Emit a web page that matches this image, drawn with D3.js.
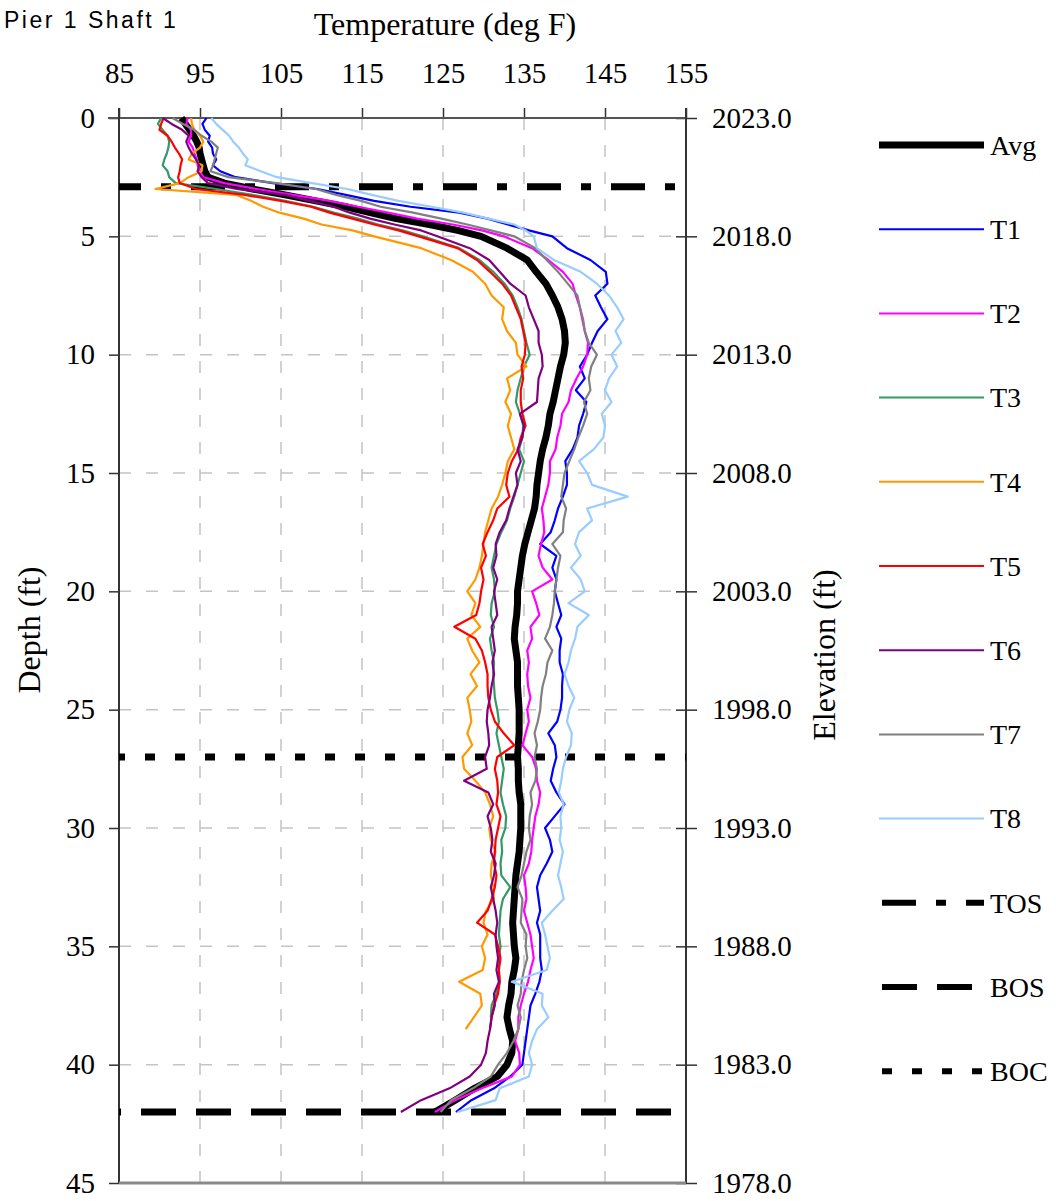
<!DOCTYPE html>
<html>
<head>
<meta charset="utf-8">
<script src="https://cdn.jsdelivr.net/npm/d3@7"></script>
<style>
  body { margin: 0; background: #fff; }
  svg text { font-family: "Liberation Serif", "Times New Roman", serif; fill: #000; }
  svg text.sans { font-family: "Liberation Sans", Arial, sans-serif; }
</style>
</head>
<body>
<svg id="chart" width="1056" height="1201"></svg>
<script>
// ---- Data: temperature profiles of Pier 1 Shaft 1 (deg F vs depth in ft) ----
const depthFt = [
  0, 0.25, 0.5, 0.75, 1, 1.25, 1.5, 1.75, 2, 2.25, 2.5, 2.75, 3, 3.25, 3.5, 3.75, 4, 4.25, 4.5, 4.75, 5,
  5.5, 6, 6.5, 7, 7.5, 8, 8.5, 9, 9.5, 10, 10.5, 11, 11.5, 12, 12.5, 13, 13.5, 14, 14.5, 15, 15.5, 16,
  16.5, 17, 17.5, 18, 18.5, 19, 19.5, 20, 20.5, 21, 21.5, 22, 22.5, 23, 23.5, 24, 24.5, 25, 25.5, 26, 26.5, 27, 27.5, 28,
  28.5, 29, 29.5, 30, 30.5, 31, 31.5, 32, 32.5, 33, 33.5, 34, 34.5, 35, 35.5, 36, 36.5, 37, 37.5, 38, 38.5, 39, 39.5, 40, 40.5, 41, 41.5, 42
];

const avgTemp = [
  92.7, 93.2, 93.7, 94.2, 94.6, 94.9, 95.0, 95.2, 95.4, 95.6, 96.0, 98.0, 101.5, 105.5, 109.3, 113.0, 116.0, 119.2, 123.3, 126.8, 129.7,
  132.9, 135.4, 136.5, 137.7, 138.5, 139.2, 139.7, 140.0, 140.1, 139.9, 139.5, 139.2, 138.9, 138.6, 138.2, 138.0, 137.7, 137.3, 137.0, 136.8, 136.6, 136.5,
  136.3, 135.9, 135.5, 135.1, 134.8, 134.6, 134.4, 134.2, 134.2, 134.1, 133.9, 133.8, 134.0, 134.2, 134.2, 134.2, 134.3, 134.4, 134.4, 134.4, 134.3, 134.2, 134.3, 134.3,
  134.4, 134.6, 134.6, 134.6, 134.5, 134.4, 134.2, 134.0, 133.9, 133.8, 133.7, 133.6, 133.7, 133.8, 134.0, 133.8, 133.5, 133.4, 133.1, 132.9, 133.2, 133.6, 133.5, 132.9, 131.7, 128.9, 126.5, 124.0
];
const t1Temp = [
  95.8, 95.3, 95.6, 96.2, 96.0, 96.5, 96.6, 97.0, 96.6, 97.5, 99.4, 104.0, 109.5, 113.0, 116.5, 121.0, 127.0, 130.5, 133.0, 135.6, 138.5,
  140.3, 143.2, 145.1, 145.3, 143.8, 144.5, 145.3, 144.1, 143.4, 142.8, 141.9, 142.5, 141.4, 142.7, 142.3, 141.8, 141.6, 141.0, 140.1, 140.3, 140.3, 139.8,
  139.2, 138.8, 138.3, 137.0, 139.0, 138.5, 139.0, 138.8, 139.2, 139.6, 139.0, 139.6, 139.4, 139.4, 139.8, 139.7, 139.7, 139.5, 139.1, 138.0, 138.8, 139.0, 138.6, 138.3,
  139.0, 140.0, 138.8, 137.6, 138.2, 138.5, 137.8, 137.0, 136.6, 136.8, 137.0, 136.6, 137.0, 137.0, 137.0, 137.2, 136.9, 136.4, 135.8, 135.6, 135.4, 135.2, 135.0, 134.8, 133.3, 131.3, 128.5, 126.6
];
const t2Temp = [
  93.5, 93.3, 93.9, 93.9, 93.6, 94.1, 94.3, 94.6, 94.7, 95.0, 95.4, 98.0, 102.0, 106.5, 111.0, 114.5, 118.2, 121.8, 126.2, 129.8, 132.5,
  136.0, 138.0, 139.8, 141.0, 141.4, 141.9, 142.2, 142.5, 142.9, 142.8, 142.3, 141.5, 140.8, 140.5, 139.7, 139.5, 139.1, 138.9, 138.2, 138.2, 138.0, 137.6,
  137.2, 137.4, 137.5, 137.1, 136.8, 137.3, 138.5, 136.0, 136.5, 136.9, 135.8, 136.0, 135.4, 135.6, 135.4, 135.5, 135.8, 135.4, 135.6, 135.2, 134.8, 136.0, 136.5, 136.6,
  137.0, 136.8, 136.4, 136.2, 136.0, 135.9, 135.6, 135.0, 135.2, 135.3, 135.0, 135.4, 135.8, 136.0, 136.2, 135.8, 135.5, 135.0, 134.6, 134.3, 134.3, 133.9, 134.4, 134.5, 133.5, 129.8, 126.5, 124.0
];
const t3Temp = [
  90.2, 89.8, 90.4, 91.0, 91.2, 91.1, 90.9, 90.6, 90.4, 91.0, 91.2, 92.0, 97.0, 101.5, 105.5, 109.0, 111.5, 114.5, 117.0, 120.0, 122.5,
  127.0, 129.5, 131.2, 132.6, 133.6, 134.2, 134.7, 135.0, 135.3, 135.7, 135.0, 134.6, 134.2, 134.0, 134.5, 134.9, 134.8, 134.4, 135.0, 134.6, 134.2, 133.8,
  133.3, 132.9, 132.2, 131.6, 131.3, 131.0, 131.3, 131.4, 131.0, 130.9, 131.3, 130.8, 131.0, 131.3, 131.2, 131.3, 131.4, 131.7, 131.9, 131.6, 131.9, 132.2, 132.5, 132.3,
  132.1, 132.4, 132.8, 132.7, 132.2, 132.3, 132.1, 132.2, 133.3, 132.4, 132.1, 132.0, 131.9, 132.1, 131.9, 131.9, 132.0, 131.6, 131.0, 130.9, null, null, null, null, null, null, null, null
];
const t4Temp = [
  93.9, 94.0, 94.3, 95.0, 95.4, 95.0, 94.0, 93.6, 95.3, 95.2, 93.6, 92.5, 89.5, 99.5, 101.3, 102.8, 104.8, 107.8, 110.0, 113.8, 116.5,
  122.3, 126.0, 128.7, 130.2, 131.0, 132.5, 132.3, 132.9, 134.0, 134.2, 135.3, 132.9, 133.3, 132.7, 133.4, 133.0, 133.4, 133.8, 133.0, 132.7, 132.3, 131.8,
  131.0, 130.6, 130.2, 130.0, 129.8, 129.5, 129.0, 128.0, 129.0, 128.5, 129.6, 128.0, 128.6, 129.5, 128.4, 129.2, 128.0, 128.3, 128.5, 128.0, 128.6, 127.4, 127.6, 129.0,
  130.2, 130.8, 131.2, 130.7, 130.9, 131.5, 131.0, 130.9, 131.2, 131.3, 130.3, 130.0, 130.5, 129.8, 130.2, 129.9, 127.0, 129.6, 129.8, 128.8, 127.8, null, null, null, null, null, null, null
];
const t5Temp = [
  90.5, 90.2, 90.0, 91.0, 91.5, 91.9, 92.4, 92.8, 92.6, 92.5, 92.3, 92.5, 94.5, 100.5, 105.0, 108.7, 111.0, 113.8, 116.5, 119.5, 122.0,
  126.8, 129.2, 130.8, 132.3, 133.4, 134.0, 134.6, 134.9, 135.2, 135.1, 134.7, 134.9, 134.6, 134.6, 134.8, 135.2, 134.6, 134.3, 133.5, 133.0, 132.8, 133.2,
  131.7, 131.2, 130.5, 129.9, 130.3, 129.7, 130.0, 129.7, 129.5, 129.1, 126.4, 129.0, 129.8, 130.2, 130.5, 130.5, 130.6, 130.9, 131.4, 132.5, 133.8, 131.7, 131.4, 131.7,
  131.8, 131.6, 132.1, 131.8, 131.5, 131.4, 131.3, 131.6, 131.4, 131.0, 130.5, 129.2, 131.4, 131.8, 132.1, 131.9, 132.0, 131.8, 131.3, 131.0, 130.8, null, null, null, null, null, null, null
];
const t6Temp = [
  90.4, 91.5, 92.8, 93.6, 93.3, 93.6, 94.0, 94.5, 94.9, 94.7, 95.2, 96.0, 99.5, 105.5, 108.5, 111.5, 113.5, 116.0, 119.0, 122.3, 124.3,
  128.3, 130.7, 132.0, 133.3, 135.2, 135.6, 136.2, 136.8, 136.8, 137.2, 137.3, 136.8, 136.7, 136.6, 134.5, 135.0, 134.8, 134.2, 134.6, 134.0, 134.2, 133.7,
  133.2, 132.8, 132.0, 131.5, 131.6, 131.2, 131.7, 131.3, 131.5, 131.7, 131.0, 131.2, 131.4, 131.1, 131.3, 131.0, 130.8, 130.5, 130.4, 130.6, 130.7, 130.2, 130.4, 127.6,
  130.6, 131.2, 130.5, 130.9, 131.1, 130.9, 131.5, 131.3, 130.9, 131.2, 131.5, 131.7, 131.5, 131.6, 131.8, 131.6, 131.9, 131.3, 131.4, 131.0, 130.8, 130.5, 130.3, 129.7, 128.3, 125.8, 122.3, 119.8
];
const t7Temp = [
  91.6, 92.9, 94.3, 95.2, 96.4, 97.2, 97.0, 96.8, 96.6, 96.3, 98.5, 104.4, 109.3, 111.8, 114.9, 117.3, 121.3, 124.8, 128.0, 130.9, 133.8,
  136.4, 137.8, 139.2, 140.4, 141.6, 141.9, 142.3, 142.5, 143.0, 144.0, 143.3, 143.0, 143.2, 142.4, 142.8, 142.3, 141.7, 141.2, 140.6, 140.0, 139.8, 139.6,
  140.2, 139.9, 139.8, 138.5, 139.5, 139.2, 139.0, 138.8, 138.7, 138.5, 138.2, 137.6, 138.5, 137.9, 137.7, 137.3, 137.1, 137.0, 136.7, 136.3, 136.6, 136.3, 136.6, 136.4,
  135.8, 136.0, 135.7, 135.6, 135.8, 135.3, 135.0, 134.7, 134.2, 134.8, 134.7, 134.6, 135.3, 135.2, 135.4, 135.0, 134.7, 134.6, 134.2, 134.6, 134.3, 133.7, 132.9, 131.8, 130.9, 128.7, 126.0, 124.7
];
const t8Temp = [
  96.4, 97.0, 97.8, 98.6, 99.1, 99.8, 100.3, 100.9, 100.6, 102.5, 104.5, 108.8, 113.2, 116.2, 119.5, 123.6, 127.5, 130.6, 133.8, 135.2, 136.2,
  136.6, 138.7, 142.0, 144.0, 145.5, 146.5, 147.3, 146.3, 147.0, 145.8, 146.5, 145.5, 145.0, 145.8, 144.6, 145.0, 144.8, 143.6, 141.8, 142.8, 143.4, 147.8,
  142.8, 143.4, 141.8, 141.3, 142.0, 140.8, 142.0, 142.5, 140.5, 143.0, 141.6, 141.3, 140.8, 140.5, 140.0, 140.5, 141.2, 140.6, 140.3, 140.9, 140.8, 140.2, 139.8, 139.6,
  139.3, 139.9, 139.5, 139.6, 139.4, 139.8, 139.5, 139.2, 139.6, 139.9, 138.5, 137.2, 137.6, 137.9, 138.2, 137.8, 133.5, 137.3, 137.2, 138.0, 136.6, 136.0, 135.6, 136.0, 135.6, 132.0, 131.5, 126.8
];

const seriesNames = ["Avg", "T1", "T2", "T3", "T4", "T5", "T6", "T7", "T8"];
const seriesTemps = [avgTemp, t1Temp, t2Temp, t3Temp, t4Temp, t5Temp, t6Temp, t7Temp, t8Temp];

// Reference depths: top of shaft, bottom of shaft, bottom of casing
const refNames = ["TOS", "BOS", "BOC"];
const refDepthFt = [2.9, 42.0, 27.0];

const tempTicks = [85, 95, 105, 115, 125, 135, 145, 155];
const depthTicks = [0, 5, 10, 15, 20, 25, 30, 35, 40, 45];
const topElevationFt = 2023.0;

// ---- Styles ----
const seriesStyle = {
  Avg: { color: "#000000", width: 7 },
  T1:  { color: "#0000FF", width: 2.2 },
  T2:  { color: "#FF00FF", width: 2.2 },
  T3:  { color: "#339966", width: 2.2 },
  T4:  { color: "#FF9900", width: 2.2 },
  T5:  { color: "#FF0000", width: 2.2 },
  T6:  { color: "#800080", width: 2.2 },
  T7:  { color: "#808080", width: 2.2 },
  T8:  { color: "#99CCFF", width: 2.2 }
};
const refStyle = {
  TOS: { dash: "34,20,10,20", offset: 12 },
  BOS: { dash: "35,20", offset: 33 },
  BOC: { dash: "10,20", offset: 4 }
};

// ---- Layout ----
const plot = { left: 119, right: 686, top: 118, bottom: 1183 };
const x = d3.scaleLinear().domain([85, 155]).range([plot.left, plot.right]);
const y = d3.scaleLinear().domain([0, 45]).range([plot.top, plot.bottom]);

const svg = d3.select("#chart");

svg.append("defs").append("clipPath").attr("id", "plotClip")
  .append("rect")
  .attr("x", plot.left).attr("y", plot.top - 4)
  .attr("width", plot.right - plot.left).attr("height", plot.bottom - plot.top + 4);

// Grid
const grid = svg.append("g").attr("stroke", "#c4c4c4").attr("stroke-width", 1.5)
  .attr("stroke-dasharray", "12,15");
grid.selectAll("line.v").data(tempTicks.slice(1, -1)).join("line")
  .attr("class", "v")
  .attr("x1", d => x(d)).attr("x2", d => x(d))
  .attr("y1", plot.top).attr("y2", plot.bottom);
grid.selectAll("line.h").data(depthTicks.slice(1, -1)).join("line")
  .attr("class", "h")
  .attr("x1", plot.left).attr("x2", plot.right)
  .attr("y1", d => y(d)).attr("y2", d => y(d));

// Axes
const topAxis = svg.append("g").attr("transform", `translate(0,${plot.top})`)
  .call(d3.axisTop(x).tickValues(tempTicks).tickSizeInner(10).tickSizeOuter(0).tickPadding(25));
const leftAxis = svg.append("g").attr("transform", `translate(${plot.left},0)`)
  .call(d3.axisLeft(y).tickValues(depthTicks).tickSizeInner(10).tickSizeOuter(0).tickPadding(14));
const rightAxis = svg.append("g").attr("transform", `translate(${plot.right},0)`)
  .call(d3.axisRight(y).tickValues(depthTicks).tickSizeInner(11).tickSizeOuter(0).tickPadding(15)
    .tickFormat(d => (topElevationFt - d).toFixed(1)));
rightAxis.selectAll(".tick line").attr("x1", -10);

[topAxis, leftAxis, rightAxis].forEach(g => {
  g.selectAll("text").attr("font-size", 29).attr("fill", "#000");
  g.selectAll(".tick line").attr("stroke", "#333").attr("stroke-width", 1.5);
  g.select(".domain").remove();
});

// Frame
const frame = svg.append("g").attr("fill", "none");
frame.append("line").attr("x1", plot.left - 11).attr("x2", plot.right).attr("y1", plot.top).attr("y2", plot.top)
  .attr("stroke", "#555").attr("stroke-width", 2);
frame.append("line").attr("x1", plot.left).attr("x2", plot.left).attr("y1", plot.top - 10).attr("y2", plot.bottom)
  .attr("stroke", "#333").attr("stroke-width", 2);
frame.append("line").attr("x1", plot.right).attr("x2", plot.right).attr("y1", plot.top - 10).attr("y2", plot.bottom)
  .attr("stroke", "#333").attr("stroke-width", 2);
frame.append("line").attr("x1", plot.left).attr("x2", plot.right).attr("y1", plot.bottom).attr("y2", plot.bottom)
  .attr("stroke", "#8a8a8a").attr("stroke-width", 3);

// Reference depth lines
const refs = svg.append("g").attr("clip-path", "url(#plotClip)");
refNames.forEach((name, i) => {
  refs.append("line")
    .attr("x1", x(85)).attr("x2", x(155))
    .attr("y1", y(refDepthFt[i])).attr("y2", y(refDepthFt[i]))
    .attr("stroke", "#000").attr("stroke-width", 7)
    .attr("stroke-dasharray", refStyle[name].dash)
    .attr("stroke-dashoffset", refStyle[name].offset);
});

// Temperature profiles
const line = d3.line()
  .defined(d => d[1] != null)
  .x(d => x(d[1]))
  .y(d => y(d[0]));

const lines = svg.append("g").attr("clip-path", "url(#plotClip)").attr("fill", "none")
  .attr("stroke-linejoin", "round");
seriesNames.forEach((name, i) => {
  const pts = depthFt.map((d, k) => [d, seriesTemps[i][k]]);
  lines.append("path")
    .attr("d", line(pts))
    .attr("stroke", seriesStyle[name].color)
    .attr("stroke-width", seriesStyle[name].width);
});

// Titles
svg.append("text").attr("class", "sans").attr("x", 4).attr("y", 28)
  .attr("font-size", 23)
  .attr("letter-spacing", 2.5)
  .text("Pier 1 Shaft 1");
svg.append("text").attr("x", 445).attr("y", 35).attr("text-anchor", "middle")
  .attr("font-size", 32).text("Temperature (deg F)");
svg.append("text").attr("transform", "translate(40,630) rotate(-90)").attr("text-anchor", "middle")
  .attr("font-size", 32).text("Depth (ft)");
svg.append("text").attr("transform", "translate(835,655) rotate(-90)").attr("text-anchor", "middle")
  .attr("font-size", 32).text("Elevation (ft)");

// Legend
const legendNames = seriesNames.concat(refNames);
const legend = svg.append("g");
legendNames.forEach((name, i) => {
  const ly = 145 + i * 84.2;
  const g = legend.append("g");
  if (seriesStyle[name]) {
    g.append("line").attr("x1", 879).attr("x2", 984).attr("y1", ly).attr("y2", ly)
      .attr("stroke", seriesStyle[name].color).attr("stroke-width", name === "Avg" ? 7 : 2);
  } else {
    g.append("line").attr("x1", 882).attr("x2", 984).attr("y1", ly).attr("y2", ly)
      .attr("stroke", "#000").attr("stroke-width", 6)
      .attr("stroke-dasharray", refStyle[name].dash);
  }
  g.append("text").attr("x", 990).attr("y", ly).attr("dy", "0.35em")
    .attr("font-size", 28).text(name);
});
</script>
</body>
</html>
